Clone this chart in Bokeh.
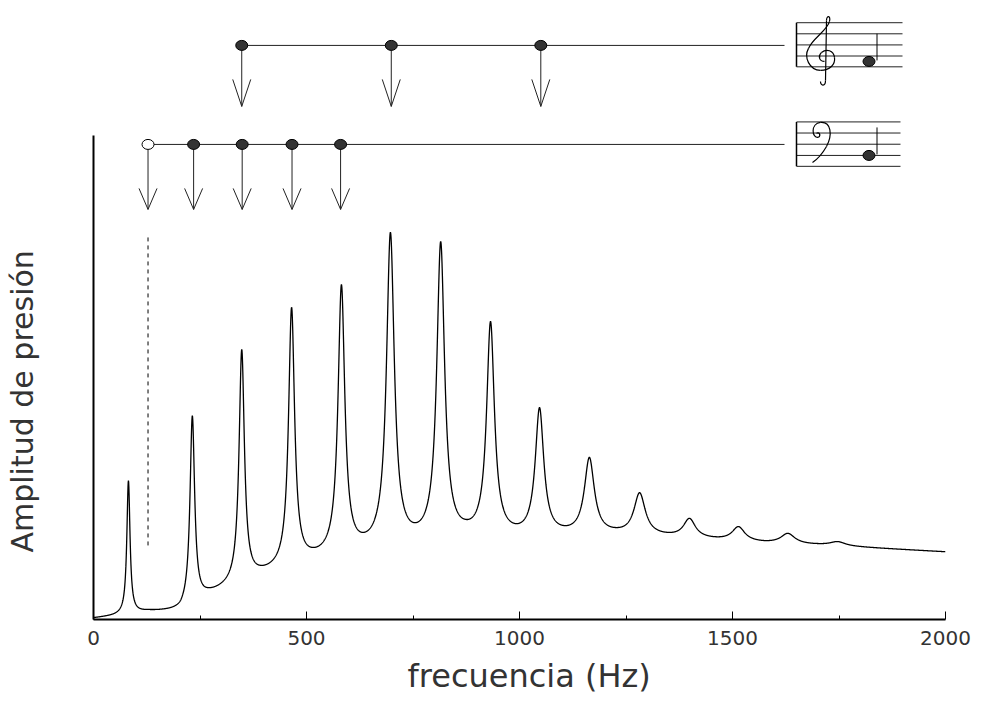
import numpy as np
from bokeh.plotting import figure
from bokeh.models import Range1d, FixedTicker, ColumnDataSource, Title
from bokeh.embed import file_html
from bokeh.resources import INLINE

# ---------------- data ----------------
# resonance peaks of the spectrum (Hz, amplitude, half width Hz)
peak_freqs = [82, 232, 348, 465, 582, 697, 815, 932, 1047, 1164, 1282, 1399, 1514, 1630, 1747]
peak_amps = [28.7, 42.1, 55.8, 64.5, 69.2, 80.0, 78.1, 61.6, 43.8, 33.5, 26.2, 20.9, 19.2, 17.8, 16.1]
peak_widths = [4.5, 6.5, 7.5, 8.5, 9.5, 11, 11, 11, 12, 14, 16, 17, 18, 20, 22]
# valleys / background level between the peaks
trough_freqs = [0, 47, 127, 204, 270, 392, 514, 634, 756, 873, 995, 1106, 1228, 1350, 1460, 1577, 1700, 1800, 2000]
trough_amps = [0.4, 1.2, 2.1, 3.9, 6.6, 11.2, 14.9, 18.0, 20.0, 20.7, 19.8, 19.4, 19.0, 18.0, 17.1, 16.3, 15.7, 15.1, 14.0]

# harmonics marked on the staves (Hz)
treble_freqs = [348, 699, 1050]
bass_freqs = [235, 349, 466, 580]
missing_fundamental = 128

x_ticks = [0, 500, 1000, 1500, 2000]
x_minor_ticks = [250, 750, 1250, 1750]

x_title = "frecuencia (Hz)"
y_title = "Amplitud de presión"

# ---------------- build the curve through the read points ----------------
tf = np.array(trough_freqs, float)
pf = np.array(peak_freqs, float)
pw = np.array(peak_widths, float)

def interp_weights(f):
    f = np.atleast_1d(f)
    Wm = np.zeros((len(f), len(tf)))
    for j in range(len(tf)):
        e = np.zeros(len(tf)); e[j] = 1.0
        Wm[:, j] = np.interp(f, tf, e)
    return Wm

def lor(f):
    f = np.atleast_1d(f)[:, None]
    return 1.0 / (1.0 + ((f - pf[None, :]) / pw[None, :]) ** 2)

cond_f = np.concatenate([tf, pf])
cond_v = np.concatenate([np.array(trough_amps), np.array(peak_amps)])
M = np.hstack([interp_weights(cond_f), lor(cond_f)])
sol = np.linalg.solve(M, cond_v)
b_coef, a_coef = sol[:len(tf)], sol[len(tf):]

freq = np.linspace(0, 2000, 4001)
amp = interp_weights(freq) @ b_coef + lor(freq) @ a_coef
src = ColumnDataSource(dict(f=freq, a=amp))

# ---------------- figure ----------------
W, H = 982, 704
p = figure(width=W, height=H, output_backend="svg", toolbar_location=None,
           x_range=Range1d(0, 2000), y_range=Range1d(0, 125.6),
           min_border_left=93, min_border_right=37, min_border_top=11, min_border_bottom=85)
p.outline_line_color = None
p.grid.visible = False
p.background_fill_color = "white"

ax = p.xaxis[0]
ax.ticker = FixedTicker(ticks=x_ticks, minor_ticks=x_minor_ticks)
ax.axis_line_width = 2
ax.axis_line_color = "black"
ax.major_tick_in = 8
ax.major_tick_out = 0
ax.minor_tick_in = 4
ax.minor_tick_out = 0
ax.major_tick_line_color = "black"
ax.minor_tick_line_color = "black"
ax.major_label_text_font = "DejaVu Sans"
ax.major_label_text_font_size = "20px"
ax.major_label_text_color = "#333333"
ax.major_label_standoff = 11

ay = p.yaxis[0]
ay.ticker = FixedTicker(ticks=[])
ay.bounds = (0, 100)
ay.axis_line_width = 2
ay.axis_line_color = "black"
ay.major_tick_line_color = None
ay.minor_tick_line_color = None
ay.major_tick_out = 0
ay.major_label_standoff = 0
# blank axis label used only as spacing so the side title sits near the page edge
ay.axis_label = " "
ay.axis_label_text_font_size = "10px"
ay.axis_label_standoff = 38

# axis titles as side titles (positioned along the axes)
p.add_layout(Title(text=x_title, align="left", offset=314, standoff=15, text_font="DejaVu Sans",
                   text_font_size="32px", text_font_style="normal", text_color="#333333"), "below")
p.add_layout(Title(text=y_title, align="left", offset=67, standoff=0, vertical_align="top",
                   text_font="DejaVu Sans", text_font_size="30px", text_font_style="normal",
                   text_color="#333333"), "left")

# px -> data helpers for decorations
def dx(px):
    return (px - 93) / 0.426

def dy(py):
    return (619 - py) / 4.84

# spectrum
p.line("f", "a", source=src, line_color="black", line_width=1.3)

# dashed marker of missing fundamental
p.segment(x0=[missing_fundamental], y0=[dy(237)], x1=[missing_fundamental], y1=[dy(545)],
          line_color="black", line_width=1, line_dash="4 4")

# connecting lines
p.segment(x0=[treble_freqs[0]], y0=[dy(45)], x1=[dx(784)], y1=[dy(45)], line_color="#222222", line_width=1)
p.segment(x0=[missing_fundamental], y0=[dy(144)], x1=[dx(784)], y1=[dy(144)], line_color="#222222", line_width=1)

# arrows
def arrows(xs, ytop, ytip, head_len):
    xs = list(xs)
    p.segment(x0=xs, y0=[ytop] * len(xs), x1=xs, y1=[ytip] * len(xs), line_color="#222222", line_width=1)
    hw = 9 / 0.426
    p.multi_line(xs=[[x - hw, x, x + hw] for x in xs],
                 ys=[[ytip + head_len, ytip, ytip + head_len] for _ in xs],
                 line_color="#222222", line_width=1)

arrows(treble_freqs, dy(45), dy(106), 27 / 4.84)
arrows([missing_fundamental] + bass_freqs, dy(144), dy(209), 21 / 4.84)

# note dots on the lines
p.ellipse(x=treble_freqs, y=[dy(45)] * 3, width=12, height=10, width_units="screen", height_units="screen",
          fill_color="#333333", line_color="black", line_width=1)
p.ellipse(x=bass_freqs, y=[dy(144)] * 4, width=12, height=10, width_units="screen", height_units="screen",
          fill_color="#333333", line_color="black", line_width=1)
p.ellipse(x=[missing_fundamental], y=[dy(144)], width=12, height=10, width_units="screen", height_units="screen",
          fill_color="white", line_color="black", line_width=1)

# staves
treble_lines = [22.3, 33.4, 44.5, 55.6, 66.4]
bass_lines = [121.5, 132.6, 143.8, 155.0, 165.9]
for lines, x_end in ((treble_lines, 902), (bass_lines, 900)):
    p.segment(x0=[dx(796)] * 5, y0=[dy(v) for v in lines], x1=[dx(x_end)] * 5, y1=[dy(v) for v in lines],
              line_color="#222222", line_width=1)
    p.segment(x0=[dx(796)], y0=[dy(lines[0])], x1=[dx(796)], y1=[dy(lines[-1])], line_color="black", line_width=1.5)

# notes on the staves
p.ellipse(x=[dx(868.5), dx(868.5)], y=[dy(61), dy(155.0)], width=12, height=10, width_units="screen",
          height_units="screen", fill_color="#333333", line_color="black")
p.segment(x0=[dx(876.5), dx(876.5)], y0=[dy(60), dy(154)], x1=[dx(876.5), dx(876.5)], y1=[dy(33.3), dy(127)],
          line_color="black", line_width=1)

# clefs (bezier strokes)
treble_clef = [
    (820, 81, 820, 86, 825, 86, 825, 80),
    (825, 80, 825.3, 60, 825.7, 40, 826, 20),
    (826, 20, 826, 15, 830.5, 14.5, 829, 21),
    (829, 21, 827, 30, 812, 38, 808, 48),
    (808, 48, 803, 57, 809, 69.5, 820, 70),
    (820, 70, 829.5, 70, 835, 64, 834, 57),
    (834, 57, 833, 50, 826, 48, 821, 52),
    (821, 52, 817, 56, 819, 61, 824, 61),
]
bass_clef = [
    (816, 133, 818, 131, 821, 134, 818, 137),
    (818, 137, 811, 138, 810, 123, 820, 122),
    (820, 122, 831, 121, 832, 135, 826, 146),
    (826, 146, 822, 153, 818, 158, 812, 162),
]
for segs in (treble_clef, bass_clef):
    p.bezier(x0=[dx(s[0]) for s in segs], y0=[dy(s[1]) for s in segs],
             cx0=[dx(s[2]) for s in segs], cy0=[dy(s[3]) for s in segs],
             cx1=[dx(s[4]) for s in segs], cy1=[dy(s[5]) for s in segs],
             x1=[dx(s[6]) for s in segs], y1=[dy(s[7]) for s in segs],
             line_color="black", line_width=1.2)

open("out.html", "w").write(file_html(p, INLINE))
